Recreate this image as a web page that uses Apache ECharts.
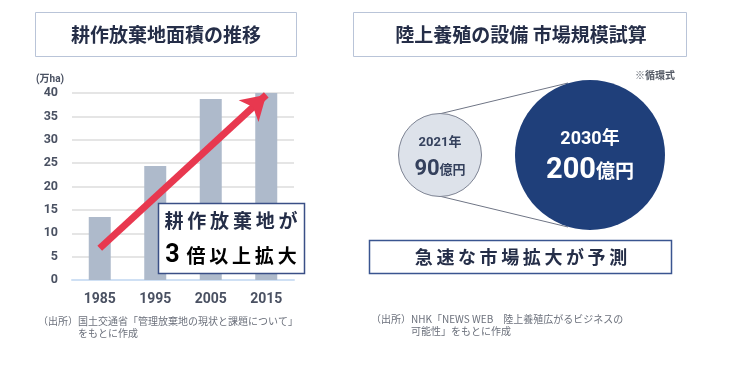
<!DOCTYPE html>
<html><head><meta charset="utf-8">
<script src="https://cdn.jsdelivr.net/npm/echarts@6/dist/echarts.min.js"></script>
<style>html,body{margin:0;padding:0;background:#fff}#c{width:740px;height:367px}</style>
</head><body><div id="c"></div>
<script>
// ---- data ----
var years = ['1985', '1995', '2005', '2015'];
var abandonedArea = [13.5, 24.4, 38.7, 40];          // 万ha
var yTicks = [0, 5, 10, 15, 20, 25, 30, 35, 40];
var arrowFrom = ['1985', 6.8];
var arrowTo = ['2015', 39.6];
var marketYears = ['2021年', '2030年'];
var marketValues = [90, 200];                           // 億円

var JP = '"Noto Sans CJK JP", "Noto Sans", sans-serif';
var NUM = 'Roboto, "Noto Sans CJK JP", sans-serif';
var NAVY = '#252e48';

var chart = echarts.init(document.getElementById('c'), null, {renderer: 'canvas'});

var circleStyles = [
  {symbolSize: 83, itemStyle: {color: '#dde2ea', borderColor: '#7b8292', borderWidth: 1, opacity: 1},
   rich: {y: {fontFamily: NUM, fontWeight: 'bold', fontSize: 13, color: '#34405c', lineHeight: 27},
          v: {fontFamily: NUM, fontWeight: 'bold', fontSize: 22, color: '#34405c', lineHeight: 27},
          u: {fontFamily: JP, fontWeight: 'bold', fontSize: 13, color: '#34405c', lineHeight: 27}},
   offset: [0, 1]},
  {symbolSize: 150, itemStyle: {color: '#1f3f7a', opacity: 1},
   rich: {y: {fontFamily: NUM, fontWeight: 'bold', fontSize: 18, color: '#fff', lineHeight: 32},
          v: {fontFamily: NUM, fontWeight: 'bold', fontSize: 29, color: '#fff', lineHeight: 32},
          u: {fontFamily: JP, fontWeight: 'bold', fontSize: 19, color: '#fff', lineHeight: 32}},
   offset: [0, 0]}
];

var scatterData = marketYears.map(function (y, i) {
  var s = circleStyles[i];
  return {
    value: [y, '市場規模', marketValues[i]],
    symbolSize: s.symbolSize,
    itemStyle: s.itemStyle,
    label: {
      show: true, position: 'inside', offset: s.offset,
      formatter: function (p) { return '{y|' + p.value[0] + '}\n{v|' + p.value[2] + '}{u|億円}'; },
      rich: s.rich
    }
  };
});

var option = {
  animation: false,
  grid: [
    {left: 72, right: 446, top: 93, bottom: 87},
    {left: 365, width: 300, top: 145, height: 20}
  ],
  xAxis: [
    {gridIndex: 0, type: 'category', data: years,
     axisLine: {lineStyle: {color: '#cfe0f4', width: 2}},
     axisTick: {show: false},
     axisLabel: {margin: 13, fontFamily: NUM, fontWeight: 'bold', fontSize: 14, color: '#4a5162'}},
    {gridIndex: 1, type: 'category', data: marketYears, show: false}
  ],
  yAxis: [
    {gridIndex: 0, type: 'value', min: 0, max: 40, interval: 5,
     name: '(万ha)', nameLocation: 'end', nameGap: 9,
     nameTextStyle: {align: 'right', padding: [0, 8, 0, 0], fontFamily: NUM, fontWeight: 'bold', fontSize: 10, color: '#4a5162'},
     axisLine: {show: false}, axisTick: {show: false},
     axisLabel: {margin: 14, fontFamily: NUM, fontWeight: 'bold', fontSize: 12.5, color: '#4a5162',
       formatter: function (v) { return yTicks.indexOf(v) >= 0 ? String(v) : ''; }},
     splitLine: {lineStyle: {color: '#dcdcdc', width: 1.5}}},
    {gridIndex: 1, type: 'category', data: ['市場規模'], show: false}
  ],
  series: [
    {type: 'bar', xAxisIndex: 0, yAxisIndex: 0, data: abandonedArea, barWidth: 22,
     itemStyle: {color: '#aebacb'},
     emphasis: {disabled: true},
     markLine: {
       silent: true, symbol: ['none', 'arrow'], symbolSize: [22, 24],
       label: {show: false},
       lineStyle: {color: '#e8384f', width: 7, type: 'solid', opacity: 1},
       data: [[{coord: arrowFrom}, {coord: arrowTo}]]
     }},
    {type: 'scatter', xAxisIndex: 1, yAxisIndex: 1, data: scatterData, z: 5, emphasis: {disabled: true}}
  ],
  graphic: [
    // left title
    {type: 'rect', shape: {x: 35.5, y: 12.5, width: 261, height: 44}, style: {fill: '#fff', stroke: '#b9c4d8', lineWidth: 1}},
    {type: 'text', x: 166, y: 35, style: {text: '耕作放棄地面積の推移', fontFamily: JP, fontWeight: 'bold', fontSize: 19, fill: NAVY, align: 'center', verticalAlign: 'middle'}},
    // right title
    {type: 'rect', shape: {x: 353.5, y: 12.5, width: 333, height: 44}, style: {fill: '#fff', stroke: '#b9c4d8', lineWidth: 1}},
    {type: 'text', x: 521, y: 35, style: {text: '陸上養殖の設備 市場規模試算', fontFamily: JP, fontWeight: 'bold', fontSize: 19, fill: NAVY, align: 'center', verticalAlign: 'middle'}},
    // callout box
    {type: 'rect', z: 100, shape: {x: 158.5, y: 203.5, width: 146, height: 70}, style: {fill: '#fff', stroke: '#3a4f86', lineWidth: 1.5}},
    {type: 'text', z: 101, x: 231, y: 221, style: {text: '耕\u2009作\u2009放\u2009棄\u2009地\u2009が', fontFamily: JP, fontWeight: 'bold', fontSize: 19, fill: NAVY, align: 'center', verticalAlign: 'middle'}},
    {type: 'text', z: 101, x: 231, y: 256, style: {
      text: '{n|3}{t|\u2009倍\u2009以\u2009上\u2009拡\u2009大}', align: 'center', verticalAlign: 'middle',
      rich: {n: {fontFamily: NUM, fontWeight: 'bold', fontSize: 25, color: NAVY, padding: [0, 3, 0, 0]},
             t: {fontFamily: JP, fontWeight: 'bold', fontSize: 19, color: NAVY}}}},
    // left source
    {type: 'text', x: 38, y: 315, style: {text: '（出所）国土交通省「管理放棄地の現状と課題について」\n　　　　をもとに作成', fontFamily: JP, fontSize: 10, lineHeight: 12, fill: '#6c717c'}},
    // right note
    {type: 'text', x: 675, y: 75, style: {text: '※循環式', fontFamily: JP, fontWeight: 'bold', fontSize: 10, fill: '#555b66', align: 'right', verticalAlign: 'middle'}},
    // tangent lines
    {type: 'line', shape: {x1: 439, y1: 114, x2: 568, y2: 83}, style: {stroke: '#6f7585', lineWidth: 1}},
    {type: 'line', shape: {x1: 439, y1: 196, x2: 568, y2: 227}, style: {stroke: '#6f7585', lineWidth: 1}},
    // bottom right box
    {type: 'rect', shape: {x: 369.5, y: 240.5, width: 302, height: 33}, style: {fill: '#fff', stroke: '#3a5590', lineWidth: 1.5}},
    {type: 'text', x: 521, y: 257, style: {text: '急\u2009速\u2009な\u2009市\u2009場\u2009拡\u2009大\u2009が\u2009予\u2009測', fontFamily: JP, fontWeight: 'bold', fontSize: 18, fill: NAVY, align: 'center', verticalAlign: 'middle'}},
    // right source
    {type: 'text', x: 371, y: 313, style: {text: '（出所）NHK「NEWS WEB　陸上養殖広がるビジネスの\n　　　　可能性」をもとに作成', fontFamily: JP, fontSize: 10, lineHeight: 12, fill: '#6c717c'}}
  ]
};
chart.setOption(option);
</script>
</body></html>
